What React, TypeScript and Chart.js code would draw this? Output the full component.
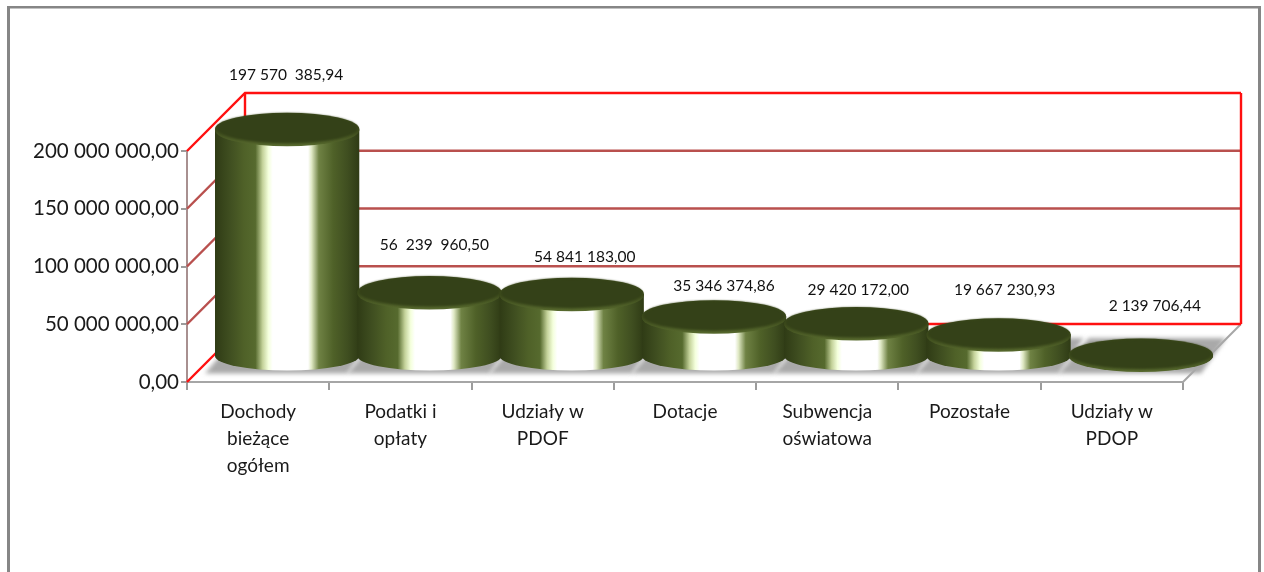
import React, { useEffect, useRef } from "react";
import { Chart, registerables } from "chart.js";

Chart.register(...registerables);

const categories: string[][] = [
  ["Dochody", "bieżące", "ogółem"],
  ["Podatki i", "opłaty"],
  ["Udziały w", "PDOF"],
  ["Dotacje"],
  ["Subwencja", "oświatowa"],
  ["Pozostałe"],
  ["Udziały w", "PDOP"],
];
const values: number[] = [197570385.94, 56239960.5, 54841183.0, 35346374.86, 29420172.0, 19667230.93, 2139706.44];
const valueLabels: string[] = [
  "197 570  385,94",
  "56  239  960,50",
  "54 841 183,00",
  "35 346 374,86",
  "29 420 172,00",
  "19 667 230,93",
  "2 139 706,44",
];
const labelNudgeX: number[] = [-1, 5, 13, 10, 2, 6, 14];
const labelNudgeY: number[] = [-38, -31, -21, -14, -17, -28, -33];

const DEPTH = 58;
const BAR_DX = 29;
const BAR_DY = -25;
const RY = 16;
const BASE_RY = 14.5;
const FONT = "Lato, 'Open Sans', sans-serif";

const fmt = (v: number) =>
  Number(v).toFixed(2).replace(".", ",").replace(/\B(?=(\d{3})+(?!\d))/g, " ");

const scenePlugin = {
  id: "scene",
  beforeDraw(chart: any) {
    const ctx = chart.ctx;
    ctx.save();
    ctx.fillStyle = "#fff";
    ctx.fillRect(0, 0, chart.width, chart.height);
    ctx.fillStyle = "#868686";
    ctx.fillRect(7, 6, 1254, 2.5);
    ctx.fillRect(7, 6, 3, chart.height);
    ctx.fillRect(1258, 6, 3, chart.height);
    ctx.restore();
  },
  beforeDatasetsDraw(chart: any) {
    const { ctx, scales, chartArea: a } = chart;
    const y = scales.y;
    ctx.save();
    ctx.lineCap = "butt";
    ctx.lineWidth = 2;
    ctx.strokeStyle = "#a6a6a6";
    ctx.beginPath();
    ctx.moveTo(a.right, a.bottom);
    ctx.lineTo(a.right + DEPTH, a.bottom - DEPTH);
    ctx.stroke();
    y.ticks.forEach((t: any) => {
      const py = y.getPixelForValue(t.value);
      const edge = t.value === y.min || t.value === y.max;
      ctx.strokeStyle = edge ? "#ff1010" : "#b9504e";
      ctx.lineWidth = 2.4;
      ctx.beginPath();
      ctx.moveTo(a.left, py);
      ctx.lineTo(a.left + DEPTH, py - DEPTH);
      ctx.lineTo(a.right + DEPTH, py - DEPTH);
      ctx.stroke();
    });
    ctx.strokeStyle = "#ff1010";
    ctx.lineWidth = 2.4;
    ctx.beginPath();
    ctx.moveTo(a.left + DEPTH, a.top - DEPTH);
    ctx.lineTo(a.left + DEPTH, a.bottom - DEPTH);
    ctx.moveTo(a.right + DEPTH, a.top - DEPTH);
    ctx.lineTo(a.right + DEPTH, a.bottom - DEPTH);
    ctx.stroke();
    ctx.restore();
  },
  afterDatasetsDraw(chart: any) {
    const { ctx } = chart;
    const bars = chart.getDatasetMeta(0).data;
    ctx.save();
    ctx.filter = "blur(2px)";
    ctx.fillStyle = "#a9a9a9";
    bars.forEach((el: any) => {
      const cx = el.x + BAR_DX;
      const rx = el.width / 2 + 1;
      const by = el.base + BAR_DY;
      ctx.beginPath();
      ctx.moveTo(cx - rx - 10, by + BASE_RY + 3);
      ctx.lineTo(cx + rx - 12, by + BASE_RY + 3);
      ctx.lineTo(cx + rx + 13, by - RY - 2);
      ctx.lineTo(cx - rx + 20, by - RY - 2);
      ctx.closePath();
      ctx.fill();
    });
    ctx.restore();
    bars.forEach((el: any) => {
      const cx = el.x + BAR_DX;
      const rx = el.width / 2 + 1;
      const top = el.y + BAR_DY;
      const by = el.base + BAR_DY;
      const g = ctx.createLinearGradient(cx - rx, 0, cx + rx, 0);
      g.addColorStop(0, "#2f3b15");
      g.addColorStop(0.1, "#3f4e20");
      g.addColorStop(0.2, "#4f6128");
      g.addColorStop(0.28, "#566a2e");
      g.addColorStop(0.33, "#c4d29a");
      g.addColorStop(0.37, "#f4ffdc");
      g.addColorStop(0.4, "#ffffff");
      g.addColorStop(0.645, "#ffffff");
      g.addColorStop(0.67, "#dfe8c4");
      g.addColorStop(0.72, "#6f8244");
      g.addColorStop(0.82, "#4f6128");
      g.addColorStop(0.92, "#3f4e20");
      g.addColorStop(1, "#2f3b15");
      ctx.save();
      ctx.fillStyle = g;
      ctx.beginPath();
      ctx.moveTo(cx - rx, top);
      ctx.lineTo(cx - rx, by);
      ctx.ellipse(cx, by, rx, BASE_RY, 0, Math.PI, 0, true);
      ctx.lineTo(cx + rx, top);
      ctx.closePath();
      ctx.fill();
      ctx.restore();
      const rim = ctx.createLinearGradient(0, top - RY, 0, top + RY + 3);
      rim.addColorStop(0, "#3a4819");
      rim.addColorStop(0.5, "#3d4b1c");
      rim.addColorStop(1, "#5a6d30");
      ctx.fillStyle = rim;
      ctx.beginPath();
      ctx.ellipse(cx, top + 1.5, rx, RY, 0, 0, Math.PI);
      ctx.ellipse(cx, top, rx, RY, 0, Math.PI, 0);
      ctx.closePath();
      ctx.fill();
      ctx.save();
      ctx.filter = "blur(0.8px)";
      ctx.fillStyle = "#344118";
      ctx.beginPath();
      ctx.ellipse(cx, top - 0.5, rx - 1.5, RY - 1, 0, 0, Math.PI * 2);
      ctx.fill();
      ctx.restore();
    });
    ctx.save();
    ctx.font = `15.5px ${FONT}`;
    ctx.fillStyle = "#111";
    ctx.textAlign = "center";
    ctx.textBaseline = "middle";
    bars.forEach((el: any, i: number) => {
      const cx = el.x + BAR_DX + labelNudgeX[i];
      const top = el.y + BAR_DY - RY + labelNudgeY[i];
      ctx.fillText(valueLabels[i], cx, top);
    });
    ctx.restore();
  },
};

export default function App() {
  const ref = useRef<HTMLCanvasElement>(null);
  useEffect(() => {
    document.body.style.margin = "0";
    const chart = new Chart(ref.current as HTMLCanvasElement, {
      type: "bar",
      data: {
        labels: categories,
        datasets: [
          {
            data: values,
            backgroundColor: "rgba(0,0,0,0)",
            borderWidth: 0,
            barPercentage: 1,
            categoryPercentage: 1,
          },
        ],
      },
      options: {
        responsive: false,
        animation: false,
        layout: { padding: { left: 0, top: 151, right: 81, bottom: 0 } },
        plugins: { legend: { display: false }, title: { display: false }, tooltip: { enabled: false } },
        scales: {
          x: {
            afterFit: (s: any) => {
              s.height = 190;
            },
            grid: { drawOnChartArea: false, drawTicks: true, tickLength: 8, color: "#9c9c9c", lineWidth: 2 },
            border: { color: "#a6a6a6", width: 2 },
            ticks: {
              maxRotation: 0,
              autoSkip: false,
              padding: 8,
              color: "#1a1a1a",
              font: { family: FONT, size: 19, lineHeight: 1.42 },
            },
          },
          y: {
            min: 0,
            max: 200000000,
            afterFit: (s: any) => {
              s.width = 187;
            },
            grid: { drawOnChartArea: false, drawTicks: true, tickLength: 6, color: "#9c9c9c", lineWidth: 2 },
            border: { color: "#a89090", width: 2 },
            ticks: {
              stepSize: 50000000,
              padding: 2,
              color: "#1a1a1a",
              font: { family: FONT, size: 20.5 },
              callback: (v: any) => fmt(v),
            },
          },
        },
      },
      plugins: [scenePlugin],
    } as any);
    return () => chart.destroy();
  }, []);
  return <canvas ref={ref} width={1264} height={572} style={{ display: "block", filter: "blur(0.4px)" }} />;
}
